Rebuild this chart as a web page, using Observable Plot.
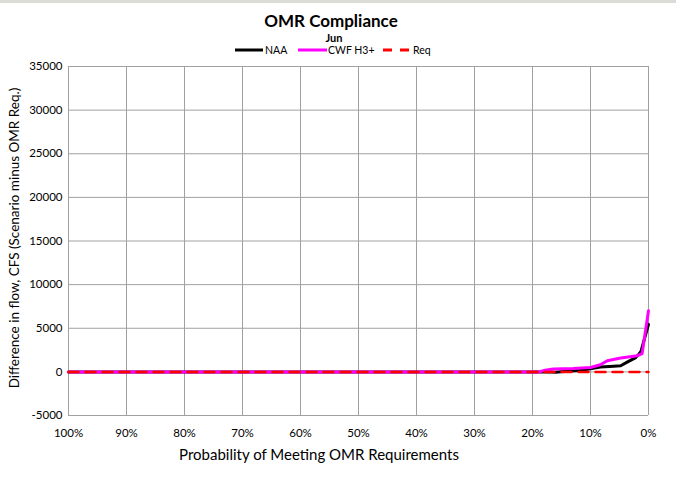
<!DOCTYPE html>
<html><head><meta charset="utf-8">
<script src="https://cdn.jsdelivr.net/npm/d3@7"></script>
<script src="https://cdn.jsdelivr.net/npm/@observablehq/plot@0.6"></script>
<style>
body{margin:0;background:#fff;font-family:Lato, "Liberation Sans", sans-serif;color:#000;}
#wrap{position:relative;width:676px;height:478px;overflow:hidden;background:#fff;}
#topbar{position:absolute;left:0;top:0;width:676px;height:3px;background:#dcdcd6;}
.abs{position:absolute;white-space:nowrap;}
#title{left:0;top:10px;width:662px;text-align:center;font-weight:bold;font-size:17px;line-height:22px;}
#sub{left:0;top:31px;width:668px;text-align:center;font-weight:bold;font-size:11px;line-height:14px;}
#legend{left:0;top:43px;width:676px;height:14px;font-size:10.5px;line-height:14px;}
#legend .sw{position:absolute;top:3px;display:block;}
#legend .lab{position:absolute;top:0;}
#chart{position:absolute;left:0;top:57px;}
#xtitle{left:0;width:638px;text-align:center;top:445px;font-size:15px;line-height:18px;}
#ytitle{left:13.5px;top:238px;font-size:13.5px;line-height:16px;transform:translate(-50%,-50%) rotate(-90deg);}
</style></head>
<body>
<div id="wrap">
  <div id="topbar"></div>
  <div id="title" class="abs">OMR Compliance</div>
  <div id="sub" class="abs">Jun</div>
  <div id="legend" class="abs"></div>
  <div id="chart"></div>
  <div id="xtitle" class="abs">Probability of Meeting OMR Requirements</div>
  <div id="ytitle" class="abs">Difference in flow, CFS (Scenario minus OMR Req.)</div>
</div>
<script>
// Exceedance probability (%) and flow difference (cfs)
const naaProb = [100, 20, 17.5, 16, 14.6, 12, 10.5, 8.3, 6, 4.8, 3.6, 2.2, 1.7, 1.3, 0];
const naaFlow = [0, 0, 0, -30, 30, 150, 300, 560, 650, 700, 1150, 1640, 2000, 2350, 5450];
const cwfProb = [100, 20, 18.8, 18.1, 16.4, 13, 10, 8.3, 7.1, 4.8, 1.9, 1.1, 0];
const cwfFlow = [0, 0, 0, 150, 320, 380, 500, 810, 1280, 1600, 1860, 2090, 7000];
const reqProb = [100, 0];
const reqFlow = [0, 0];

const xTicks = [100, 90, 80, 70, 60, 50, 40, 30, 20, 10, 0];
const yTicks = [-5000, 0, 5000, 10000, 15000, 20000, 25000, 30000, 35000];

const seriesNames = ["NAA", "CWF H3+", "Req"];
const seriesColors = ["#000000", "#ff00ff", "#ff0000"];

const toRows = (p, v) => p.map((d, i) => ({p: d, v: v[i]}));
const naa = toRows(naaProb, naaFlow);
const cwf = toRows(cwfProb, cwfFlow);
const req = toRows(reqProb, reqFlow);

const chart = Plot.plot({
  width: 676,
  height: 421,
  marginLeft: 68,
  marginRight: 28,
  marginTop: 9,
  marginBottom: 63,
  x: {domain: [100, 0]},
  y: {domain: [-5000, 35000]},
  style: {fontFamily: "Lato, 'Liberation Sans', sans-serif", fontSize: "11.5px", color: "#000", background: "#fff", overflow: "visible"},
  marks: [
    Plot.gridX(xTicks, {stroke: "#a0a0a0", strokeOpacity: 1, strokeWidth: 1}),
    Plot.gridY(yTicks, {stroke: "#a0a0a0", strokeOpacity: 1, strokeWidth: 1}),
    Plot.axisX(xTicks, {tickSize: 0, tickPadding: 13, label: null, tickFormat: d => d + "%"}),
    Plot.axisY(yTicks, {tickSize: 0, tickPadding: 6, label: null, tickFormat: d => String(d)}),
    Plot.line(naa, {x: "p", y: "v", stroke: seriesColors[0], strokeWidth: 3}),
    Plot.line(cwf, {x: "p", y: "v", stroke: seriesColors[1], strokeWidth: 3}),
    Plot.line(req, {x: "p", y: "v", stroke: seriesColors[2], strokeWidth: 2.5, strokeDasharray: "10,7"})
  ]
});
document.getElementById("chart").appendChild(chart);

// legend (swatch start, swatch width, label start)
const legend = d3.select("#legend");
const swX = [235, 298, 383];
const swW = [28, 29, 27];
const labX = [265, 328, 413];
seriesNames.forEach((name, i) => {
  const s = legend.append("svg").attr("class", "sw").style("left", swX[i] + "px")
    .attr("width", swW[i]).attr("height", 8);
  s.append("line").attr("x1", 0).attr("x2", swW[i]).attr("y1", 4).attr("y2", 4)
    .attr("stroke", seriesColors[i]).attr("stroke-width", 3)
    .attr("stroke-dasharray", i === 2 ? "9,8" : null);
  legend.append("span").attr("class", "lab").style("left", labX[i] + "px").text(name);
});
</script>
</body></html>
